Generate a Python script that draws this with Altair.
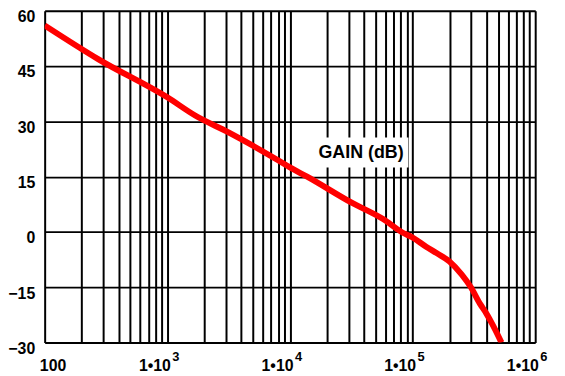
import altair as alt
import pandas as pd

# Gain curve (frequency in Hz, gain in dB)
freq = [100, 275, 1000, 1700, 3160, 7940, 10000, 13800, 31600, 57500,
        81300, 100000, 129000, 158000, 200000, 251000, 299000, 355000,
        398000, 447000, 531000]
gain = [56, 46.8, 36.5, 31.5, 27, 19.5, 17.5, 15, 8, 3.5,
        0, -1.5, -4, -5.8, -8, -11.5, -15, -19.5, -22, -25, -30]

y_ticks = [-30, -15, 0, 15, 30, 45, 60]
decades = [100, 1000, 10000, 100000, 1000000]
decade_labels = ["100", "1•10", "1•10", "1•10", "1•10"]
sup_pos = [1000, 10000, 100000, 1000000]
sup_text = ["3", "4", "5", "6"]
x_grid = [d * m for d in decades[:-1] for m in range(1, 10)] + [decades[-1]]

label_text = ["GAIN (dB)"]
label_f = [38000]
label_g = [21.5]
box_f1, box_f2 = [14700], [92500]
box_g1, box_g2 = [17.5], [25.6]

df = pd.DataFrame({"f": freq, "g": gain})
lab = pd.DataFrame({"t": label_text, "f": label_f, "g": label_g})
box = pd.DataFrame({"f1": box_f1, "f2": box_f2, "g1": box_g1, "g2": box_g2})
sup = pd.DataFrame({"f": sup_pos, "t": sup_text, "g": [y_ticks[0]] * len(sup_pos)})

label_expr = " : ".join(
    f"datum.value == {v} ? '{t}'" for v, t in zip(decades, decade_labels)
) + " : ''"

xscale = alt.Scale(type="log", domain=[100, 1000000])
yscale = alt.Scale(domain=[-30, 60])

FONT = "Liberation Sans"

line = alt.Chart(df).mark_line(color="#ff0000", strokeWidth=6, clip=True,
                               interpolate="monotone").encode(
    x=alt.X("f:Q", scale=xscale, title=None,
            axis=alt.Axis(values=x_grid, labelExpr=label_expr, grid=True,
                          gridColor="black", gridWidth=2, gridOpacity=1,
                          ticks=False, domain=False, labelFlush=False,
                          labelFont=FONT, labelFontSize=16, labelFontWeight="bold",
                          labelColor="black", labelPadding=15, labelAngle=0,
                          labelOverlap=False,
                          labelOffset={"condition": {"test": "datum.value <= 100", "value": 8},
                                       "value": -13})),
    y=alt.Y("g:Q", scale=yscale, title=None,
            axis=alt.Axis(values=y_ticks, grid=True, gridColor="black",
                          gridWidth=2, gridOpacity=1, ticks=False, domain=False,
                          labelFont=FONT, labelFontSize=16, labelFontWeight="bold",
                          labelColor="black", labelPadding=10, labelOffset=6,
                          labelFlush=False)),
)

rect = alt.Chart(box).mark_rect(color="white").encode(
    x=alt.X("f1:Q", scale=xscale), x2="f2:Q",
    y=alt.Y("g1:Q", scale=yscale), y2="g2:Q",
)

text = alt.Chart(lab).mark_text(font=FONT, fontSize=18, fontWeight="bold",
                                color="black").encode(
    x=alt.X("f:Q", scale=xscale), y=alt.Y("g:Q", scale=yscale), text="t:N",
)

sup_text_layer = alt.Chart(sup).mark_text(font=FONT, fontSize=13, fontWeight="bold",
                                          color="black", align="left",
                                          baseline="top", dx=5, dy=9).encode(
    x=alt.X("f:Q", scale=xscale), y=alt.Y("g:Q", scale=yscale), text="t:N",
)

chart = alt.layer(line, rect, text, sup_text_layer).properties(
    width=495, height=335,
    autosize=alt.AutoSizeParams(type="none"),
    padding={"left": 37, "top": 1, "right": 22, "bottom": 30},
).configure_view(stroke="black", strokeWidth=2).configure(background="white")

chart.save("out.html", embed_options={"renderer": "svg", "actions": False})
